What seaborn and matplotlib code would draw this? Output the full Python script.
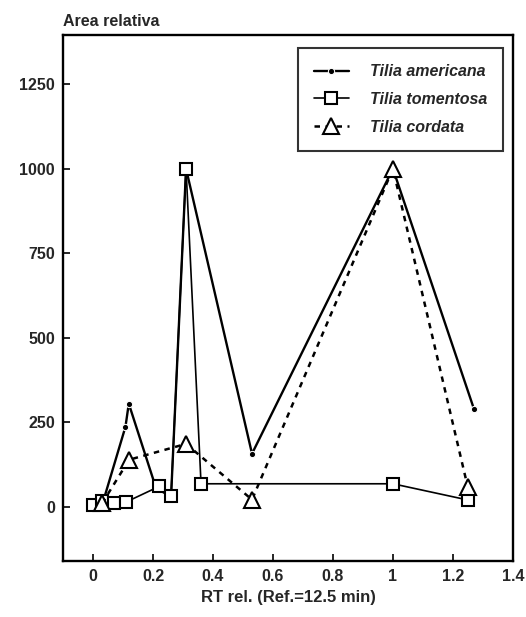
import matplotlib
matplotlib.use("Agg")
import matplotlib.pyplot as plt
import seaborn as sns
import pandas as pd

# Datos
x_americana = [0.0, 0.03, 0.108, 0.119, 0.21, 0.26, 0.31, 0.53, 1.0, 1.27]
y_americana = [0, 5, 237, 305, 55, 30, 1000, 157, 1000, 290]

x_tomentosa = [0.0, 0.03, 0.07, 0.11, 0.22, 0.26, 0.31, 0.36, 1.0, 1.25]
y_tomentosa = [5, 18, 10, 14, 60, 33, 1000, 68, 68, 20]

x_cordata = [0.03, 0.12, 0.31, 0.53, 1.0, 1.25]
y_cordata = [10, 139, 186, 21, 1000, 57]

labels = ['Tilia americana', 'Tilia tomentosa', 'Tilia cordata']
x_ticks = [0, 0.2, 0.4, 0.6, 0.8, 1, 1.2, 1.4]
x_ticklabels = ['0', '0.2', '0.4', '0.6', '0.8', '1', '1.2', '1.4']
y_ticks = [0, 250, 500, 750, 1000, 1250]

sns.set_style('ticks')
plt.rcParams['font.family'] = ['Liberation Sans', 'DejaVu Sans']
plt.rcParams['font.weight'] = 'bold'

fig = plt.figure(figsize=(5.26, 6.17), dpi=100)
ax = fig.add_axes([0.12, 0.091, 0.855, 0.852])

df_a = pd.DataFrame({'x': x_americana, 'y': y_americana})
df_t = pd.DataFrame({'x': x_tomentosa, 'y': y_tomentosa})
df_c = pd.DataFrame({'x': x_cordata, 'y': y_cordata})

sns.lineplot(data=df_a, x='x', y='y', ax=ax, color='black', lw=1.7,
             marker='o', markersize=4.5, estimator=None, sort=False,
             label=labels[0])
sns.lineplot(data=df_t, x='x', y='y', ax=ax, color='black', lw=1.2,
             marker='s', markersize=9, markerfacecolor='white',
             markeredgecolor='black', markeredgewidth=1.5,
             estimator=None, sort=False, label=labels[1])
sns.lineplot(data=df_c, x='x', y='y', ax=ax, color='black', lw=1.8,
             linestyle=(0, (2.2, 2.2)), marker='^', markersize=11,
             markerfacecolor='white', markeredgecolor='black',
             markeredgewidth=1.5, estimator=None, sort=False,
             label=labels[2])

ax.set_xlim(-0.1, 1.4)
ax.set_ylim(-160, 1395)
ax.set_xticks(x_ticks)
ax.set_xticklabels(x_ticklabels)
ax.set_yticks(y_ticks)
ax.tick_params(direction='in', length=5, width=1.4, labelsize=11.5, pad=6)
for s in ax.spines.values():
    s.set_linewidth(1.7)
    s.set_color('black')

ax.set_xlabel('RT rel. (Ref.=12.5 min)', fontsize=12, fontweight='bold',
              labelpad=4)
ax.set_ylabel('')
ax.text(0.0, 1.012, 'Area relativa', transform=ax.transAxes,
        fontsize=11.5, fontweight='bold', ha='left', va='bottom')

leg = ax.legend(loc='upper right', bbox_to_anchor=(0.978, 0.975),
                frameon=True, fancybox=False, handlelength=2.2,
                borderpad=1.0, labelspacing=0.8, handletextpad=1.3,
                borderaxespad=0.0,
                prop={'style': 'italic', 'weight': 'bold', 'size': 11.5})
leg.get_frame().set_edgecolor('black')
leg.get_frame().set_linewidth(1.5)

fig.savefig('out.png', dpi=100)
